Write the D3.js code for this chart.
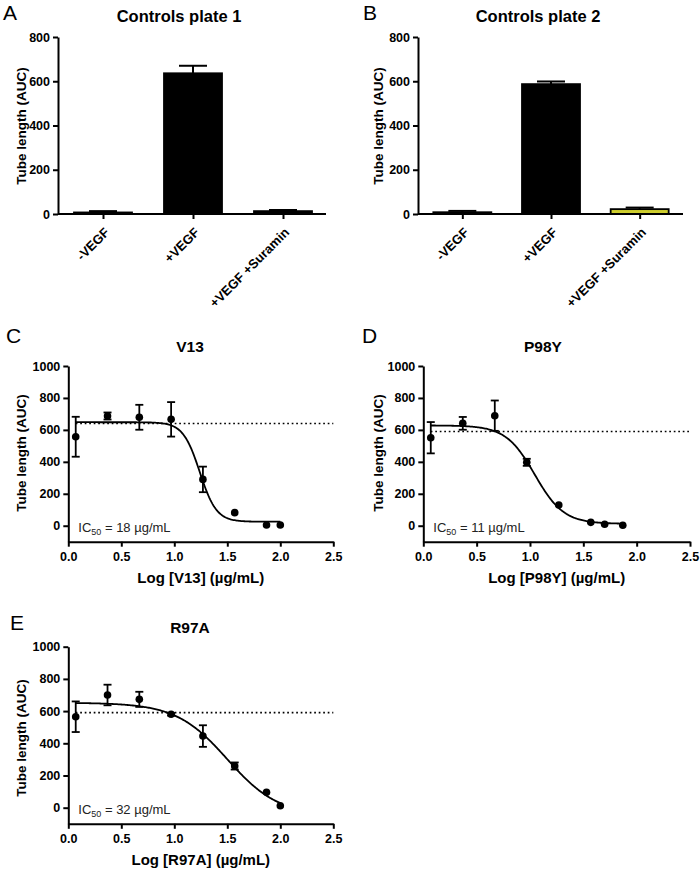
<!DOCTYPE html>
<html>
<head>
<meta charset="utf-8">
<script src="https://cdn.jsdelivr.net/npm/d3@7"></script>
<style>
  body { margin: 0; background: #fff; }
  svg { display: block; font-family: "Liberation Sans", Arial, Helvetica, sans-serif; }
</style>
</head>
<body>
<svg id="chart" width="700" height="869"></svg>
<script>
// ---------- data ----------
const barCategories = ["-VEGF", "+VEGF", "+VEGF +Suramin"];
const plate1Means = [7, 636, 13];
const plate1Errors = [6, 34, 5];
const plate2Means = [8, 587, 22];
const plate2Errors = [6, 12, 7];
const barTicks = [0, 200, 400, 600, 800];

const doseTicksX = [0.0, 0.5, 1.0, 1.5, 2.0, 2.5];
const doseTicksY = [0, 200, 400, 600, 800, 1000];

const v13X = [0.07, 0.37, 0.67, 0.97, 1.27, 1.57, 1.87, 2.0];
const v13Mean = [557, 687, 679, 666, 290, 82, 5, 5];
const v13Err = [125, 22, 78, 108, 80, 0, 0, 0];
const v13Fit = [648, 25, 1.24, 5.5];      // top, bottom, logIC50, hill
const v13Control = 640;

const p98yX = [0.07, 0.37, 0.67, 0.97, 1.27, 1.57, 1.70, 1.87];
const p98yMean = [551, 641, 689, 397, 130, 21, 9, 3];
const p98yErr = [98, 40, 95, 22, 0, 0, 0, 0];
const p98yFit = [628, 12, 1.045, 3.2];
const p98yControl = 590;

const r97aX = [0.07, 0.37, 0.67, 0.97, 1.27, 1.57, 1.87, 2.0];
const r97aMean = [565, 700, 673, 580, 445, 259, 96, 12];
const r97aErr = [95, 64, 47, 8, 67, 22, 0, 0];
const r97aFit = [652, -50, 1.5, 1.8];
const r97aControl = 590;

// ---------- drawing ----------
const FONT = "'Liberation Sans', Arial, Helvetica, sans-serif";
const svg = d3.select("#chart");

function panelLetter(x, y, t) {
  svg.append("text").attr("x", x).attr("y", y).attr("font-size", 21).text(t);
}
function title(x, y, t, size) {
  svg.append("text").attr("x", x).attr("y", y).attr("text-anchor", "middle")
    .attr("font-size", size).attr("font-weight", "bold").text(t);
}
function yLabel(x, y) {
  svg.append("text").attr("transform", `translate(${x},${y}) rotate(-90)`)
    .attr("text-anchor", "middle").attr("dominant-baseline", "central")
    .attr("font-size", 13.5).attr("font-weight", "bold").text("Tube length (AUC)");
}
function styleAxis(g) {
  g.attr("font-family", FONT).attr("font-size", 12.5).attr("font-weight", "bold");
  g.select(".domain").attr("stroke", "#000").attr("stroke-width", 2);
  g.selectAll(".tick line").attr("stroke", "#000").attr("stroke-width", 2);
  g.selectAll(".tick text").attr("fill", "#000");
}

function barPanel(cfg) {
  const y = d3.scaleLinear().domain([0, 800]).range([cfg.y0, cfg.y1]);
  const x = d3.scalePoint().domain(barCategories).range([cfg.x0, cfg.x1]).padding(0.5);
  const bw = 58;
  const g = svg.append("g");
  barCategories.forEach((c, i) => {
    const cx = x(c), m = cfg.means[i], e = cfg.errs[i];
    g.append("line").attr("x1", cx).attr("x2", cx).attr("y1", y(m)).attr("y2", y(m + e))
      .attr("stroke", "#000").attr("stroke-width", 2);
    g.append("line").attr("x1", cx - 14).attr("x2", cx + 14).attr("y1", y(m + e)).attr("y2", y(m + e))
      .attr("stroke", "#000").attr("stroke-width", 2);
    g.append("rect").attr("x", cx - bw / 2).attr("width", bw)
      .attr("y", y(m)).attr("height", y(0) - y(m))
      .attr("fill", cfg.colors[i]).attr("stroke", "#000").attr("stroke-width", 1.8);
  });
  svg.append("g").attr("transform", `translate(${cfg.ax},0)`)
    .call(d3.axisLeft(y).tickValues(barTicks).tickSize(5).tickSizeOuter(0).tickPadding(3).tickFormat(d3.format("d")))
    .call(styleAxis);
  const axx = svg.append("g").attr("transform", `translate(0,${cfg.y0})`)
    .call(d3.axisBottom(x).tickSize(5).tickSizeOuter(0).tickFormat(""))
    .call(styleAxis);
  axx.select(".domain").attr("d", `M${cfg.ax},0H${cfg.axEnd}`);
  barCategories.forEach(c => {
    svg.append("text")
      .attr("transform", `translate(${x(c) + 4},${cfg.y0 + 16}) rotate(-45)`)
      .attr("text-anchor", "end").attr("font-size", 13).attr("font-weight", "bold")
      .attr("dominant-baseline", "central").text(c);
  });
}

function dosePanel(cfg) {
  const x = d3.scaleLinear().domain([0, 2.5]).range([cfg.x0, cfg.x1]);
  const y = d3.scaleLinear().domain([-100, 1000]).range([cfg.y0, cfg.y1]);
  const [top, bottom, logIC, hill] = cfg.fit;
  svg.append("line").attr("x1", x(cfg.xs[0])).attr("x2", x(2.5))
    .attr("y1", y(cfg.control)).attr("y2", y(cfg.control))
    .attr("stroke", "#000").attr("stroke-width", 1.7).attr("stroke-dasharray", "1.7,2.8");
  const xs = d3.range(cfg.xs[0], cfg.xs[cfg.xs.length - 1] + 0.0001, 0.01);
  const line = d3.line().x(d => x(d)).y(d => y(bottom + (top - bottom) / (1 + Math.pow(10, (d - logIC) * hill))));
  svg.append("path").attr("d", line(xs)).attr("fill", "none").attr("stroke", "#000").attr("stroke-width", 1.8);
  cfg.xs.forEach((xv, i) => {
    const m = cfg.means[i], e = cfg.errs[i], cx = x(xv);
    if (e > 0) {
      svg.append("line").attr("x1", cx).attr("x2", cx).attr("y1", y(m - e)).attr("y2", y(m + e))
        .attr("stroke", "#000").attr("stroke-width", 1.8);
      [m - e, m + e].forEach(v => svg.append("line").attr("x1", cx - 4).attr("x2", cx + 4)
        .attr("y1", y(v)).attr("y2", y(v)).attr("stroke", "#000").attr("stroke-width", 1.8));
    }
    svg.append("circle").attr("cx", cx).attr("cy", y(m)).attr("r", 3.8).attr("fill", "#000");
  });
  svg.append("g").attr("transform", `translate(${cfg.x0},0)`)
    .call(d3.axisLeft(y).tickValues(doseTicksY).tickSize(5).tickSizeOuter(0).tickPadding(3).tickFormat(d3.format("d")))
    .call(styleAxis);
  svg.append("g").attr("transform", `translate(0,${cfg.y0})`)
    .call(d3.axisBottom(x).tickValues(doseTicksX).tickSize(5).tickSizeOuter(0).tickPadding(5).tickFormat(d3.format(".1f")))
    .call(styleAxis);
  svg.append("text").attr("x", (cfg.x0 + cfg.x1) / 2).attr("y", cfg.y0 + 41)
    .attr("text-anchor", "middle").attr("font-size", 15).attr("font-weight", "bold")
    .text(cfg.xlabel);
  const t = svg.append("text").attr("x", cfg.x0 + 10).attr("y", y(0) + 6)
    .attr("font-size", 13).attr("fill", "#222");
  t.append("tspan").text("IC");
  t.append("tspan").attr("font-size", 9).attr("dy", 3).text("50");
  t.append("tspan").attr("dy", -3).text(" = " + cfg.ic50 + " \u00b5g/mL");
}

// Panel A
panelLetter(3, 20, "A");
title(179, 22, "Controls plate 1", 16.5);
yLabel(21, 126);
barPanel({ ax: 58, axEnd: 326, x0: 58, x1: 328, y0: 214, y1: 37,
  means: plate1Means, errs: plate1Errors, colors: ["#000", "#000", "#000"] });

// Panel B
panelLetter(363, 20, "B");
title(538, 22, "Controls plate 2", 16.5);
yLabel(378, 126);
barPanel({ ax: 418, axEnd: 683, x0: 418, x1: 684, y0: 214, y1: 37,
  means: plate2Means, errs: plate2Errors, colors: ["#000", "#000", "#cece2e"] });

// Panel C
panelLetter(6, 343, "C");
title(190, 352, "V13", 15.5);
yLabel(21, 453);
dosePanel({ x0: 68.3, x1: 333.3, y0: 541.7, y1: 366, xs: v13X, means: v13Mean, errs: v13Err,
  fit: v13Fit, control: v13Control, xlabel: "Log [V13] (\u00b5g/mL)", ic50: 18 });

// Panel D
panelLetter(362, 343, "D");
title(543, 352, "P98Y", 15.5);
yLabel(378, 453);
dosePanel({ x0: 423.3, x1: 690, y0: 541.7, y1: 366, xs: p98yX, means: p98yMean, errs: p98yErr,
  fit: p98yFit, control: p98yControl, xlabel: "Log [P98Y] (\u00b5g/mL)", ic50: 11 });

// Panel E
panelLetter(10, 630, "E");
title(190, 633, "R97A", 15.5);
yLabel(21, 738);
dosePanel({ x0: 68.3, x1: 333.3, y0: 823.8, y1: 646.7, xs: r97aX, means: r97aMean, errs: r97aErr,
  fit: r97aFit, control: r97aControl, xlabel: "Log [R97A] (\u00b5g/mL)", ic50: 32 });
</script>
</body>
</html>
